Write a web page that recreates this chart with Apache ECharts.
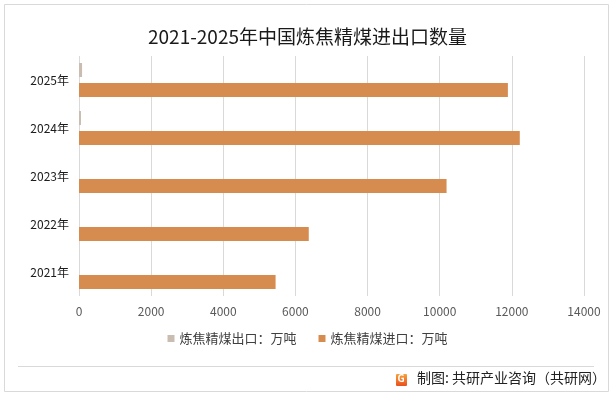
<!DOCTYPE html>
<html>
<head>
<meta charset="utf-8">
<script src="https://cdn.jsdelivr.net/npm/echarts@6/dist/echarts.min.js"></script>
<style>
html,body{margin:0;padding:0;background:#fff;}
#c{width:615px;height:397px;}
</style>
</head>
<body>
<div id="c"></div>
<script>
var title = '2021-2025年中国炼焦精煤进出口数量';
var categories = ['2021年', '2022年', '2023年', '2024年', '2025年'];
var exportName = '炼焦精煤出口：万吨';
var importName = '炼焦精煤进口：万吨';
var exportValues = [0, 0, 0, 55, 85];
var importValues = [5450, 6370, 10190, 12220, 11890];
var xTicks = [0, 2000, 4000, 6000, 8000, 10000, 12000, 14000];
var source = '制图: 共研产业咨询（共研网）';

var chart = echarts.init(document.getElementById('c'), null, {renderer: 'canvas'});
var font = '"Noto Sans CJK SC", "Noto Sans", sans-serif';
chart.setOption({
  animation: false,
  backgroundColor: '#fff',
  textStyle: {fontFamily: font},
  title: {
    text: title, left: 'center', top: 22,
    textStyle: {fontSize: 19, fontWeight: 'normal', color: '#1a1a1a', fontFamily: font}
  },
  legend: {
    top: 327, left: 'center', itemWidth: 7, itemHeight: 7, itemGap: 22,
    icon: 'rect',
    textStyle: {fontSize: 13, color: '#404040', fontFamily: font},
    data: [exportName, importName]
  },
  grid: {left: 79, right: 31, top: 56, bottom: 101, containLabel: false},
  xAxis: {
    type: 'value', min: xTicks[0], max: xTicks[xTicks.length - 1], interval: 2000,
    axisLine: {show: false}, axisTick: {show: false},
    splitLine: {lineStyle: {color: '#d9d9d9', width: 1}},
    axisLabel: {fontSize: 12, color: '#595959', margin: 9, fontFamily: font,
      formatter: function (v) { return String(v); }}
  },
  yAxis: {
    type: 'category', data: categories,
    axisLine: {show: false}, axisTick: {show: false},
    axisLabel: {fontSize: 12, color: '#1a1a1a', margin: 10, fontFamily: font}
  },
  series: [
    {name: exportName, type: 'bar', data: exportValues, barWidth: 14, barGap: '43%',
     itemStyle: {color: '#c9bdb2'}},
    {name: importName, type: 'bar', data: importValues, barWidth: 14, barGap: '43%',
     itemStyle: {color: '#d68c4e'}}
  ],
  graphic: [
    {type: 'rect', shape: {x: 4.5, y: 4.5, width: 604, height: 387},
     style: {fill: 'none', stroke: '#d9d9d9', lineWidth: 1}, silent: true},
    {type: 'line', shape: {x1: 18, y1: 366.5, x2: 594, y2: 366.5},
     style: {stroke: '#d9d9d9', lineWidth: 1}, silent: true},
    {type: 'rect', shape: {x: 396, y: 374, width: 11, height: 12, r: 1},
     style: {fill: {type: 'linear', x: 0, y: 0, x2: 0, y2: 1,
       colorStops: [{offset: 0, color: '#f7a23a'}, {offset: 1, color: '#ea4f1f'}]}}, silent: true},
    {type: 'text', left: 397.5, top: 373.5, style: {text: 'G', fill: '#fff', font: 'bold 10px ' + font}, silent: true},
    {type: 'text', right: 9, top: 371,
     style: {text: source, fill: '#222', font: '14px ' + font}, silent: true}
  ]
});
</script>
</body>
</html>
